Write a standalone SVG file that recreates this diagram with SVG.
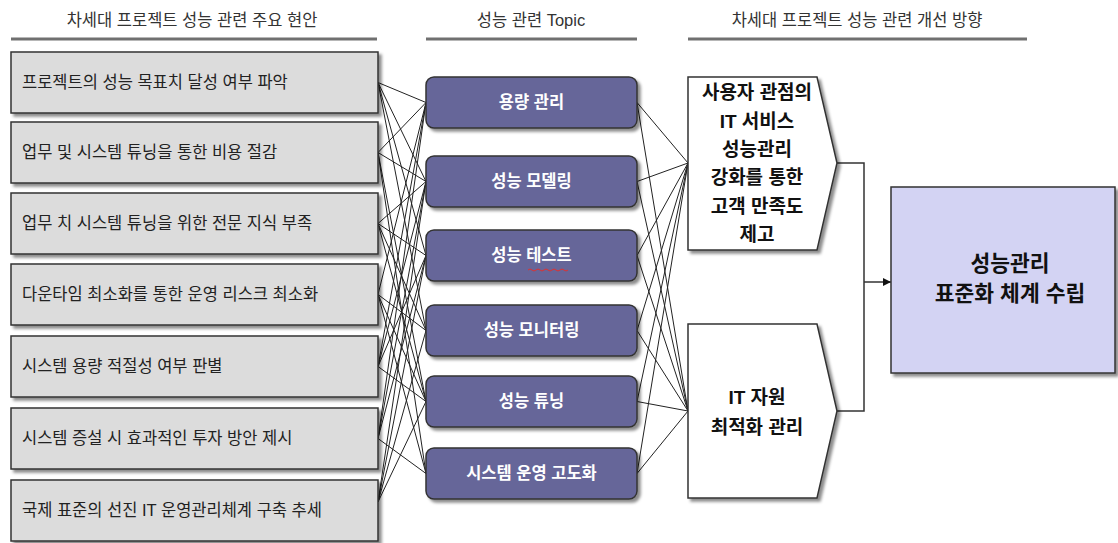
<svg xmlns="http://www.w3.org/2000/svg" width="1118" height="543" viewBox="0 0 1118 543">
<style>
text{font-family:"Liberation Sans","Noto Sans CJK KR",sans-serif;}
.hdr{font-size:16.5px;fill:#333;text-anchor:middle;}
.rule{stroke:#707070;stroke-width:3;}
.lbox{fill:#dcdcdc;stroke:#333;stroke-width:1.5;}
.ltxt{font-size:16.5px;fill:#222;}
.topic{fill:#666699;stroke:#333;stroke-width:1.5;}
.ttxt{font-size:16.5px;fill:#fff;font-weight:bold;text-anchor:middle;}
.chev{fill:#fff;stroke:#333;stroke-width:1.5;}
.ctxt{font-size:19px;fill:#111;font-weight:bold;text-anchor:middle;}
.big{fill:#d3d3f3;stroke:#333;stroke-width:1.5;}
.btxt{font-size:21.5px;fill:#111;font-weight:bold;text-anchor:middle;}
.con{stroke:#222;stroke-width:1;fill:none;}
.con2{stroke:#333;stroke-width:1.5;fill:none;}
</style>
<defs>
<filter id="sh" x="-10%" y="-10%" width="130%" height="130%">
<feDropShadow dx="3" dy="3" stdDeviation="1.5" flood-color="#000" flood-opacity="0.45"/>
</filter>
<marker id="arr" viewBox="0 0 10 10" refX="10" refY="5" markerWidth="8" markerHeight="8" orient="auto" markerUnits="userSpaceOnUse">
<path d="M0,0 L10,5 L0,10 z" fill="#111"/>
</marker>
</defs>
<rect width="1118" height="543" fill="#fff"/>

<g id="headers">
<text class="hdr" x="192" y="26">차세대 프로젝트 성능 관련 주요 현안</text>
<line class="rule" x1="11" y1="39" x2="377" y2="39"/>
<text class="hdr" x="531" y="26">성능 관련 Topic</text>
<line class="rule" x1="426" y1="39" x2="637" y2="39"/>
<text class="hdr" x="857" y="26">차세대 프로젝트 성능 관련 개선 방향</text>
<line class="rule" x1="688" y1="39" x2="1027" y2="39"/>
</g>

<g id="connectors">
<line class="con" x1="378" y1="82.5" x2="426" y2="102.5"/>
<line class="con" x1="378" y1="82.5" x2="426" y2="181.5"/>
<line class="con" x1="378" y1="82.5" x2="426" y2="255.5"/>
<line class="con" x1="378" y1="82.5" x2="426" y2="330.5"/>
<line class="con" x1="378" y1="152.5" x2="426" y2="102.5"/>
<line class="con" x1="378" y1="152.5" x2="426" y2="181.5"/>
<line class="con" x1="378" y1="152.5" x2="426" y2="401.5"/>
<line class="con" x1="378" y1="152.5" x2="426" y2="473.5"/>
<line class="con" x1="378" y1="223.5" x2="426" y2="181.5"/>
<line class="con" x1="378" y1="223.5" x2="426" y2="255.5"/>
<line class="con" x1="378" y1="223.5" x2="426" y2="330.5"/>
<line class="con" x1="378" y1="223.5" x2="426" y2="401.5"/>
<line class="con" x1="378" y1="294.5" x2="426" y2="102.5"/>
<line class="con" x1="378" y1="294.5" x2="426" y2="330.5"/>
<line class="con" x1="378" y1="294.5" x2="426" y2="401.5"/>
<line class="con" x1="378" y1="294.5" x2="426" y2="473.5"/>
<line class="con" x1="378" y1="366.5" x2="426" y2="102.5"/>
<line class="con" x1="378" y1="366.5" x2="426" y2="181.5"/>
<line class="con" x1="378" y1="366.5" x2="426" y2="255.5"/>
<line class="con" x1="378" y1="366.5" x2="426" y2="401.5"/>
<line class="con" x1="378" y1="438.5" x2="426" y2="102.5"/>
<line class="con" x1="378" y1="438.5" x2="426" y2="181.5"/>
<line class="con" x1="378" y1="438.5" x2="426" y2="255.5"/>
<line class="con" x1="378" y1="438.5" x2="426" y2="473.5"/>
<line class="con" x1="378" y1="502" x2="426" y2="181.5"/>
<line class="con" x1="378" y1="502" x2="426" y2="255.5"/>
<line class="con" x1="378" y1="502" x2="426" y2="330.5"/>
<line class="con" x1="378" y1="502" x2="426" y2="401.5"/>
<line class="con" x1="637" y1="102.5" x2="688" y2="163"/>
<line class="con" x1="637" y1="181.5" x2="688" y2="163"/>
<line class="con" x1="637" y1="255.5" x2="688" y2="163"/>
<line class="con" x1="637" y1="330.5" x2="688" y2="163"/>
<line class="con" x1="637" y1="401.5" x2="688" y2="163"/>
<line class="con" x1="637" y1="473.5" x2="688" y2="163"/>
<line class="con" x1="637" y1="102.5" x2="688" y2="411"/>
<line class="con" x1="637" y1="181.5" x2="688" y2="411"/>
<line class="con" x1="637" y1="255.5" x2="688" y2="411"/>
<line class="con" x1="637" y1="330.5" x2="688" y2="411"/>
<line class="con" x1="637" y1="401.5" x2="688" y2="411"/>
<line class="con" x1="637" y1="473.5" x2="688" y2="411"/>
<path class="con2" d="M837,163 H864 V411 H837"/>
<line class="con2" x1="864" y1="282" x2="891" y2="282" marker-end="url(#arr)"/>
</g>

<g id="issue1"><rect class="lbox" x="11" y="52" width="367" height="61" filter="url(#sh)"/><text class="ltxt" x="22" y="88">프로젝트의 성능 목표치 달성 여부 파악</text></g>
<g id="issue2"><rect class="lbox" x="11" y="122" width="367" height="61" filter="url(#sh)"/><text class="ltxt" x="22" y="158">업무 및 시스템 튜닝을 통한 비용 절감</text></g>
<g id="issue3"><rect class="lbox" x="11" y="193" width="367" height="61" filter="url(#sh)"/><text class="ltxt" x="22" y="229">업무 치 시스템 튜닝을 위한 전문 지식 부족</text></g>
<g id="issue4"><rect class="lbox" x="11" y="264" width="367" height="61" filter="url(#sh)"/><text class="ltxt" x="22" y="300">다운타임 최소화를 통한 운영 리스크 최소화</text></g>
<g id="issue5"><rect class="lbox" x="11" y="336" width="367" height="61" filter="url(#sh)"/><text class="ltxt" x="22" y="372">시스템 용량 적절성 여부 판별</text></g>
<g id="issue6"><rect class="lbox" x="11" y="408" width="367" height="61" filter="url(#sh)"/><text class="ltxt" x="22" y="444">시스템 증설 시 효과적인 투자 방안 제시</text></g>
<g id="issue7"><rect class="lbox" x="11" y="480" width="367" height="61" filter="url(#sh)"/><text class="ltxt" x="22" y="516">국제 표준의 선진 IT 운영관리체계 구축 추세</text></g>

<g id="topic1"><rect class="topic" x="426" y="77" width="211" height="51" rx="8" filter="url(#sh)"/><text class="ttxt" x="531.5" y="108">용량 관리</text></g>
<g id="topic2"><rect class="topic" x="426" y="156" width="211" height="51" rx="8" filter="url(#sh)"/><text class="ttxt" x="531.5" y="187">성능 모델링</text></g>
<g id="topic3"><rect class="topic" x="426" y="230" width="211" height="51" rx="8" filter="url(#sh)"/><text class="ttxt" x="531.5" y="261">성능 테스트</text>
<path d="M528,270 q2,-2 4,0 t4,0 t4,0 t4,0 t4,0 t4,0 t4,0 t4,0 t4,0 t4,0" fill="none" stroke="#e03030" stroke-width="1"/></g>
<g id="topic4"><rect class="topic" x="426" y="305" width="211" height="51" rx="8" filter="url(#sh)"/><text class="ttxt" x="531.5" y="336">성능 모니터링</text></g>
<g id="topic5"><rect class="topic" x="426" y="376" width="211" height="51" rx="8" filter="url(#sh)"/><text class="ttxt" x="531.5" y="407">성능 튜닝</text></g>
<g id="topic6"><rect class="topic" x="426" y="448" width="211" height="51" rx="8" filter="url(#sh)"/><text class="ttxt" x="531.5" y="479">시스템 운영 고도화</text></g>

<g id="direction1"><polygon class="chev" points="688,77 817,77 837,163 817,250 688,250" filter="url(#sh)"/>
<text class="ctxt" x="757" y="99">사용자 관점의</text>
<text class="ctxt" x="757" y="128">IT 서비스</text>
<text class="ctxt" x="757" y="156">성능관리</text>
<text class="ctxt" x="757" y="184">강화를 통한</text>
<text class="ctxt" x="757" y="213">고객 만족도</text>
<text class="ctxt" x="757" y="241">제고</text></g>
<g id="direction2"><polygon class="chev" points="688,324 817,324 837,411 817,498 688,498" filter="url(#sh)"/>
<text class="ctxt" x="757" y="404">IT 자원</text>
<text class="ctxt" x="757" y="434">최적화 관리</text></g>

<g id="goal"><rect class="big" x="891" y="187" width="224" height="186" filter="url(#sh)"/>
<text class="btxt" x="1010" y="271">성능관리</text>
<text class="btxt" x="1010" y="301">표준화 체계 수립</text></g>
</svg>
